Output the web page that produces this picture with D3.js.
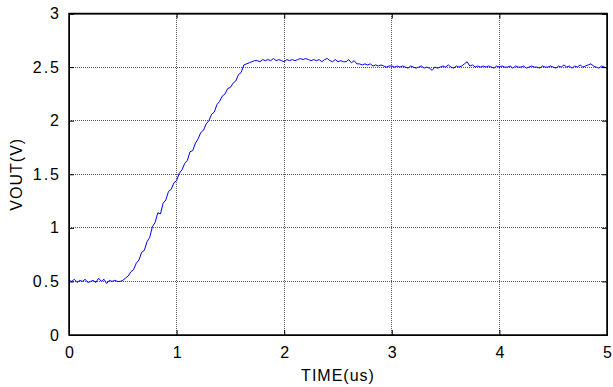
<!DOCTYPE html>
<html>
<head>
<meta charset="utf-8">
<script src="https://cdn.jsdelivr.net/npm/d3@7"></script>
<style>
  body { margin: 0; background: #fff; }
  text { font-family: "Liberation Sans", Arial, sans-serif; }
</style>
</head>
<body>
<svg id="chart"></svg>
<script>
// sampled output voltage, one value every 0.025 us from 0 to 5 us
var sampleStep = 0.025
var vout = [
  0.51,0.50,0.52,0.49,0.51,0.50,0.52,0.49,0.50,0.51,
  0.49,0.53,0.50,0.52,0.48,0.51,0.50,0.51,0.50,0.50,
  0.51,0.53,0.55,0.59,0.61,0.67,0.70,0.77,0.79,0.87,
  0.91,1.01,1.05,1.14,1.13,1.23,1.26,1.34,1.36,1.42,
  1.44,1.51,1.54,1.60,1.63,1.71,1.72,1.79,1.83,1.89,
  1.91,1.97,2.00,2.06,2.08,2.15,2.18,2.23,2.25,2.30,
  2.31,2.35,2.37,2.43,2.45,2.52,2.53,2.54,2.55,2.56,
  2.56,2.55,2.57,2.56,2.57,2.56,2.58,2.56,2.57,2.56,
  2.55,2.57,2.56,2.57,2.56,2.57,2.58,2.57,2.58,2.57,
  2.56,2.57,2.56,2.57,2.55,2.57,2.58,2.56,2.55,2.57,
  2.55,2.56,2.55,2.55,2.57,2.54,2.56,2.53,2.53,2.52,
  2.53,2.52,2.53,2.51,2.52,2.51,2.52,2.51,2.50,2.51,
  2.51,2.50,2.51,2.50,2.51,2.50,2.49,2.51,2.50,2.49,
  2.50,2.51,2.49,2.50,2.49,2.47,2.50,2.49,2.50,2.51,
  2.50,2.52,2.50,2.49,2.51,2.50,2.51,2.53,2.55,2.51,
  2.52,2.50,2.51,2.50,2.51,2.50,2.51,2.50,2.49,2.51,
  2.50,2.51,2.50,2.50,2.51,2.49,2.51,2.50,2.50,2.51,
  2.49,2.50,2.51,2.50,2.50,2.49,2.51,2.50,2.50,2.51,
  2.50,2.49,2.51,2.50,2.52,2.50,2.51,2.49,2.51,2.50,
  2.52,2.50,2.51,2.52,2.53,2.51,2.50,2.49,2.51,2.50,
  2.49
]
var xTicks = [0,1,2,3,4,5]
var yTicks = [0,0.5,1,1.5,2,2.5,3]

var screen = {width:613, height:387}
var margin = {top:13.5, right:6, bottom:52, left:69}
var w = screen.width - margin.left - margin.right
var h = screen.height - margin.top - margin.bottom

var svg = d3.select("#chart")
            .attr("width", screen.width)
            .attr("height", screen.height)

var chart = svg.append("g")
               .attr("transform", "translate(" + margin.left + "," + margin.top + ")")

var xScale = d3.scaleLinear().domain([0,5]).range([0,w])
var yScale = d3.scaleLinear().domain([0,3]).range([h,0])

// grid
chart.selectAll(".vgrid")
     .data(xTicks.slice(1,-1))
     .enter().append("line")
     .attr("x1", function(d){return xScale(d)})
     .attr("x2", function(d){return xScale(d)})
     .attr("y1", 0).attr("y2", h)
     .attr("stroke", "#555")
     .attr("stroke-dasharray", "1,1")
     .attr("shape-rendering", "crispEdges")

chart.selectAll(".hgrid")
     .data(yTicks.slice(1,-1))
     .enter().append("line")
     .attr("y1", function(d){return yScale(d)})
     .attr("y2", function(d){return yScale(d)})
     .attr("x1", 0).attr("x2", w)
     .attr("stroke", "#555")
     .attr("stroke-dasharray", "1,1")
     .attr("shape-rendering", "crispEdges")

// signal
var line = d3.line()
             .x(function(d,i){return xScale(i*sampleStep)})
             .y(function(d){return yScale(d)})

chart.append("path")
     .datum(vout)
     .attr("d", line)
     .attr("fill", "none")
     .attr("stroke", "#0000ff")
     .attr("stroke-width", 1)

// axes, ticks point inward like matlab
var tickLen = 5
chart.append("g").call(d3.axisBottom(xScale).tickValues(xTicks).tickSize(-tickLen).tickPadding(12).tickFormat(d3.format("d")))
     .attr("transform", "translate(0," + h + ")")
     .selectAll(".tick text").attr("dx", "1px")
chart.append("g").call(d3.axisTop(xScale).tickValues(xTicks).tickSize(-tickLen).tickFormat(""))
chart.append("g").call(d3.axisLeft(yScale).tickValues(yTicks).tickSize(-tickLen).tickPadding(8).tickFormat(d3.format("")))
chart.append("g").call(d3.axisRight(yScale).tickValues(yTicks).tickSize(-tickLen).tickFormat(""))
     .attr("transform", "translate(" + w + ",0)")

chart.selectAll(".domain").attr("stroke", "#000")
chart.selectAll(".tick line").attr("stroke", "#000")
chart.selectAll(".tick text")
     .style("font-size", "16px")
     .style("letter-spacing", "2px")
     .attr("fill", "#000")

chart.append("rect")
     .attr("width", w).attr("height", h)
     .attr("fill", "none")
     .attr("stroke", "#000")
     .attr("stroke-width", 1.5)

svg.append("text")
   .attr("x", margin.left + w/2)
   .attr("y", 381)
   .attr("text-anchor", "middle")
   .style("font-size", "16px")
   .style("letter-spacing", "1px")
   .text("TIME(us)")

svg.append("text")
   .attr("transform", "translate(22," + (margin.top + h/2) + ") rotate(-90)")
   .attr("text-anchor", "middle")
   .style("font-size", "16px")
   .style("letter-spacing", "1px")
   .text("VOUT(V)")
</script>
</body>
</html>
